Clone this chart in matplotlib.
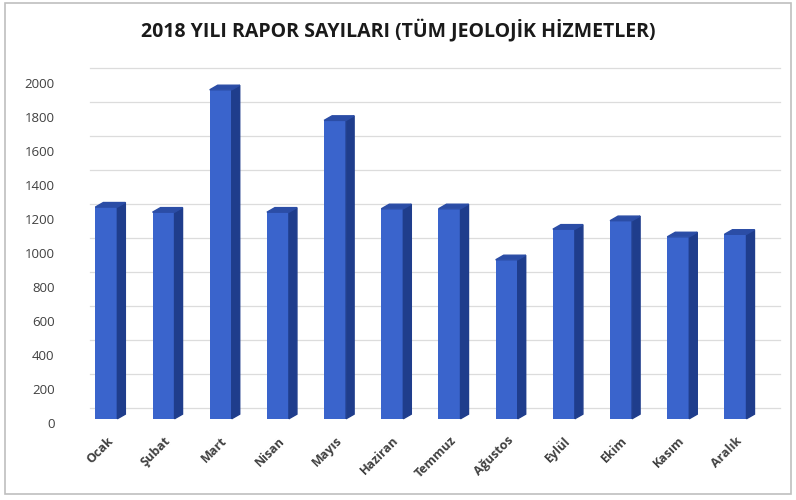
import matplotlib.pyplot as plt
from matplotlib.patches import Polygon

months = ['Ocak', 'Şubat', 'Mart', 'Nisan', 'Mayıs', 'Haziran',
          'Temmuz', 'Ağustos', 'Eylül', 'Ekim', 'Kasım', 'Aralık']
reports = [1245, 1215, 1935, 1215, 1755, 1235, 1235, 935, 1115, 1165, 1070, 1085]
yticks = [0, 200, 400, 600, 800, 1000, 1200, 1400, 1600, 1800, 2000]
title = '2018 YILI RAPOR SAYILARI (TÜM JEOLOJİK HİZMETLER)'

front_col = '#3a64cc'
side_col = '#1f3d8c'
top_col = '#2b4da6'

fig = plt.figure(figsize=(7.96, 5.0), dpi=100)
ax = fig.add_axes([0.107, 0.154, 0.873, 0.714])

w = 0.385
dx, dy = 0.14, 27
x = list(range(len(months)))
base = 25  # bars sit slightly above the zero label, like the 3D floor

ax.bar(x, reports, width=w, bottom=base, color=front_col, zorder=3)
for xi, v in zip(x, reports):
    r = xi + w / 2
    l = xi - w / 2
    top = v + base
    # right side face
    ax.add_patch(Polygon([(r, base), (r + dx, base + dy), (r + dx, top + dy), (r, top)],
                         closed=True, color=side_col, zorder=3, clip_on=False))
    # top cap
    ax.add_patch(Polygon([(l, top), (l + dx, top + dy), (r + dx, top + dy), (r, top)],
                         closed=True, color=top_col, zorder=3, clip_on=False))

# back-wall gridlines (shifted up a little like the 3D chart)
for t in yticks:
    ax.plot([-0.28, 11.78], [t + 90, t + 90], color='#dcdcdc', lw=0.9, zorder=1,
            clip_on=False)

ax.set_xlim(-0.37, 11.78)
ax.set_ylim(0, 2100)
ax.set_yticks(yticks)
ax.set_yticklabels([str(t) for t in yticks], fontsize=9.5, color='#404040',
                   family='Open Sans')
ax.set_xticks(x)
ax.set_xticklabels(months, rotation=45, ha='right', rotation_mode='anchor',
                   fontsize=9, fontweight='bold', color='#404040',
                   family='Open Sans')
ax.tick_params(axis='x', length=0, pad=8)
ax.tick_params(axis='y', length=0, pad=22)
for s in ax.spines.values():
    s.set_visible(False)

fig.text(0.5, 0.94, title, ha='center', va='center', fontsize=14,
         fontweight='bold', color='#1a1a1a', family='Open Sans')

# outer chart frame
fig.patches.append(plt.Rectangle((0.006, 0.012), 0.988, 0.982, transform=fig.transFigure,
                                 fill=False, edgecolor='#bfbfbf', lw=1.2))

fig.savefig('out.png', dpi=100)
